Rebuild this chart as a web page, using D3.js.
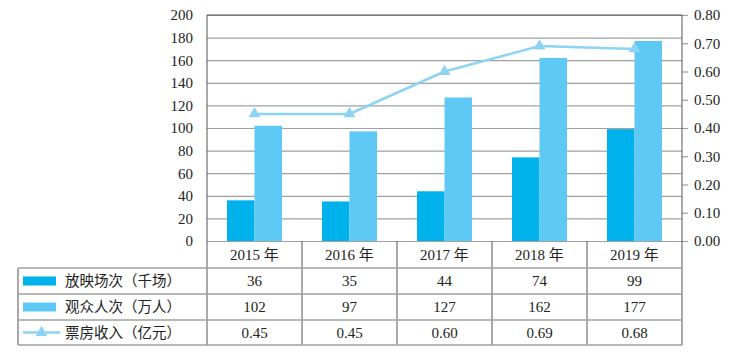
<!DOCTYPE html>
<html><head><meta charset="utf-8">
<script src="https://cdn.jsdelivr.net/npm/d3@7"></script>
<style>
body{margin:0;background:#fff;}
svg{display:block;}
text{font-family:"Liberation Serif","Times New Roman","Noto Sans CJK SC",serif;fill:#222;}
.cjk{font-family:"Noto Sans CJK SC",sans-serif;}
</style></head>
<body>
<svg id="c" width="747" height="355"></svg>
<script>
const categories = ["2015 年","2016 年","2017 年","2018 年","2019 年"];
const screenings = [36,35,44,74,99];
const audience = [102,97,127,162,177];
const boxOffice = [0.45,0.45,0.60,0.69,0.68];
const leftTicks = [0,20,40,60,80,100,120,140,160,180,200];
const rightTicks = [0,0.1,0.2,0.3,0.4,0.5,0.6,0.7,0.8];
const seriesNames = ["放映场次（千场）","观众人次（万人）","票房收入（亿元）"];
const tableRows = [screenings.map(String), audience.map(String), boxOffice.map(v=>v.toFixed(2))];

const c1 = "#00b2ec", c2 = "#5ec9f4", c3 = "#8cd3f4", grid = "#a0a0a0", dark = "#555";
const svg = d3.select("#c");
const L = 207, R = 682, T = 15, B = 241;
const tableLeft = 18, rowY = [268, 294, 320, 345];

const x = d3.scaleBand().domain(categories).range([L, R]);
const xs = d3.scaleBand().domain([0,1]).range([20, 75]);
const yL = d3.scaleLinear().domain([0,200]).range([B, T]);
const yR = d3.scaleLinear().domain([0,0.8]).range([B, T]);

// gridlines
svg.append("g").attr("transform",`translate(${L},0)`)
  .call(d3.axisLeft(yL).tickValues(leftTicks).tickSize(-(R-L)).tickFormat(""))
  .call(g=>g.select(".domain").remove())
  .call(g=>g.selectAll("line").attr("stroke",grid).attr("stroke-width",1.2));

// left labels
svg.append("g").attr("transform",`translate(${L},0)`)
  .call(d3.axisLeft(yL).tickValues(leftTicks).tickSize(0).tickPadding(14))
  .call(g=>g.select(".domain").remove())
  .call(g=>g.selectAll("text").attr("font-size",15).attr("fill","#222").style("font-family","'Liberation Serif',serif"));

// right axis
svg.append("g").attr("transform",`translate(${R},0)`)
  .call(d3.axisRight(yR).tickValues(rightTicks).tickSize(6).tickPadding(6).tickFormat(d3.format(".2f")))
  .call(g=>g.select(".domain").remove())
  .call(g=>g.selectAll("line").attr("stroke",grid).attr("stroke-width",1.2))
  .call(g=>g.selectAll("text").attr("font-size",15).attr("fill","#222").style("font-family","'Liberation Serif',serif"));

// bars
const gBars = svg.append("g");
categories.forEach((cat,i)=>{
  gBars.append("rect").attr("x",x(cat)+xs(0)).attr("width",xs.bandwidth())
    .attr("y",yL(screenings[i])).attr("height",yL(0)-yL(screenings[i])).attr("fill",c1);
  gBars.append("rect").attr("x",x(cat)+xs(1)).attr("width",xs.bandwidth())
    .attr("y",yL(audience[i])).attr("height",yL(0)-yL(audience[i])).attr("fill",c2);
});

// line
const cx = d => x(d) + x.bandwidth()/2;
svg.append("path").datum(boxOffice)
  .attr("d", d3.line().x((d,i)=>cx(categories[i])).y(d=>yR(d)))
  .attr("fill","none").attr("stroke",c3).attr("stroke-width",2.5);
const tri = d3.symbol().type(d3.symbolTriangle).size(60);
svg.append("g").selectAll("path").data(boxOffice).join("path")
  .attr("d",tri).attr("transform",(d,i)=>`translate(${cx(categories[i])},${yR(d)})`)
  .attr("fill",c3);

// frame lines
const frame = svg.append("g").attr("stroke",dark).attr("stroke-width",1);
frame.append("line").attr("x1",L).attr("x2",L).attr("y1",T).attr("y2",rowY[3]);
frame.append("line").attr("x1",R).attr("x2",R).attr("y1",T).attr("y2",rowY[3]);
frame.append("line").attr("x1",L).attr("x2",R).attr("y1",T).attr("y2",T);
categories.slice(1).forEach(cat=>{
  frame.append("line").attr("x1",x(cat)).attr("x2",x(cat)).attr("y1",B).attr("y2",rowY[3]);
});
frame.append("line").attr("x1",tableLeft).attr("x2",tableLeft).attr("y1",rowY[0]).attr("y2",rowY[3]);
rowY.forEach(y=>{
  frame.append("line").attr("x1",tableLeft).attr("x2",R).attr("y1",y).attr("y2",y).attr("stroke",grid).attr("stroke-width",1.3);
});

// category labels
svg.append("g").selectAll("text").data(categories).join("text")
  .attr("x",d=>cx(d)).attr("y",(B+rowY[0])/2+5).attr("text-anchor","middle")
  .attr("font-size",15).text(d=>d);

// table values
tableRows.forEach((row,r)=>{
  const yMid = (rowY[r]+rowY[r+1])/2;
  row.forEach((v,i)=>{
    svg.append("text").attr("x",cx(categories[i])).attr("y",yMid+5)
      .attr("text-anchor","middle").attr("font-size",15).text(v);
  });
  // legend
  if(r<2){
    svg.append("rect").attr("x",23).attr("y",yMid-4.5).attr("width",33).attr("height",9).attr("fill",r===0?c1:c2);
  } else {
    svg.append("line").attr("x1",23).attr("x2",60).attr("y1",yMid).attr("y2",yMid).attr("stroke",c3).attr("stroke-width",2.5);
    svg.append("path").attr("d",tri).attr("transform",`translate(41.5,${yMid})`).attr("fill",c3);
  }
  svg.append("text").attr("class","cjk").attr("x",65).attr("y",yMid+5)
    .attr("font-size",14.5).attr("fill","#333").text(seriesNames[r]);
});
</script>
</body></html>
